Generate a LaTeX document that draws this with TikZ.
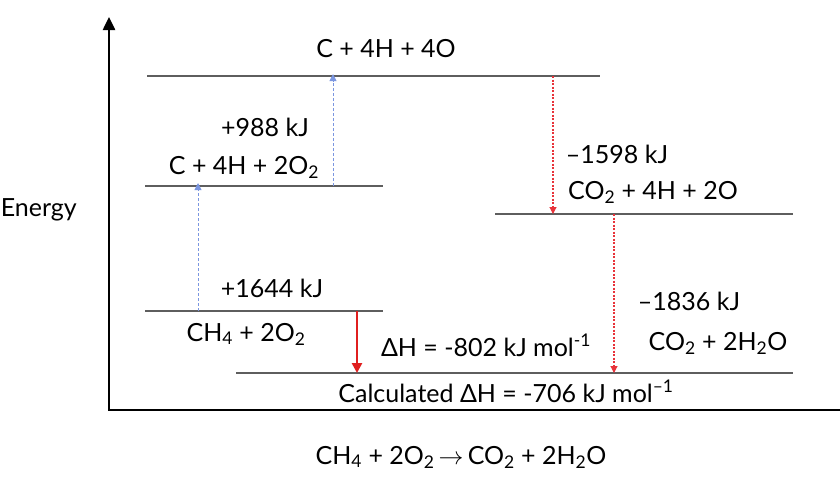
\documentclass[tikz,border=0pt]{standalone}
\usepackage{fontspec}
\setmainfont{Lato}
\usetikzlibrary{arrows.meta}
\definecolor{levelgray}{HTML}{5E5E5E}
\definecolor{endoblue}{HTML}{7B96E0}
\definecolor{exored}{HTML}{E8333A}
\definecolor{deltared}{HTML}{E01F1F}

\begin{document}
\begin{tikzpicture}[x=1pt,y=-1pt,
    every node/.style={font=\fontsize{25}{29}\selectfont,inner sep=0pt,anchor=base},
    level/.style={draw=levelgray,line width=1.4pt},
    endo/.style={draw=endoblue,dash pattern=on 3pt off 2pt,line width=0.9pt,-{Triangle[length=7pt,width=7pt]}},
    exo/.style={draw=exored,dash pattern=on 2pt off 1.5pt,line width=1.1pt,-{Triangle[length=7pt,width=7pt]}}]
  \useasboundingbox (0,0) rectangle (840,480);

  % axes
  \coordinate (O) at (109,410);
  \draw[line width=2.5pt,-{Triangle[length=13pt,width=12pt]}] (840,410) -- (O) -- (109,17);
  \node[anchor=base east] (energy) at (77,216) {Energy};

  % energy levels
  \foreach \name/\xa/\xb/\y in {top/147/600/76,mid/145/383/186,react/145/383/311,right/495/793/214,prod/236/793/373}{
    \coordinate (\name-w) at (\xa,\y);
    \coordinate (\name-e) at (\xb,\y);
    \draw[level] (\name-w) -- (\name-e);
  }

  % level labels
  \node (topL) at (386,57) {C + 4H + 4O};
  \node (midL) at (244,174) {C + 4H + 2O\textsubscript{2}};
  \node (reactL) at (246,341) {CH\textsubscript{4} + 2O\textsubscript{2}};
  \node (rightL) at (653,199) {CO\textsubscript{2} + 4H + 2O};
  \node (prodL) at (718,350) {CO\textsubscript{2} + 2H\textsubscript{2}O};
  \node (calc) at (506,402) {Calculated ΔH = -706 kJ mol\textsuperscript{–1}};

  % steps
  \coordinate (s1) at (198,311);
  \coordinate (s2) at (333,186);
  \coordinate (s3) at (553,76);
  \coordinate (s4) at (614,214);
  \coordinate (s5) at (357,311);
  \draw[endo] (s1) -- ([yshift=3pt]s1 |- mid-w);
  \draw[endo] (s2) -- ([yshift=2pt]s2 |- top-w);
  \draw[exo] (s3) -- (s3 |- right-w);
  \draw[exo] (s4) -- (s4 |- prod-w);
  \draw[draw=deltared,line width=2.5pt,-{Triangle[length=10pt,width=10pt]}] (s5) -- (s5 |- prod-w);

  \node (e1644) at (272,297) {+1644 kJ};
  \node (e988) at (265,136) {+988 kJ};
  \node (e1598) at (617,163) {–1598 kJ};
  \node (e1836) at (689,310) {–1836 kJ};
  \node (dH) at (486,356) {ΔH = -802 kJ mol\textsuperscript{-1}};

  \node (eqn) at (461,464) {CH\textsubscript{4} + 2O\textsubscript{2}\,$\rightarrow$\,CO\textsubscript{2} + 2H\textsubscript{2}O};
\end{tikzpicture}
\end{document}
